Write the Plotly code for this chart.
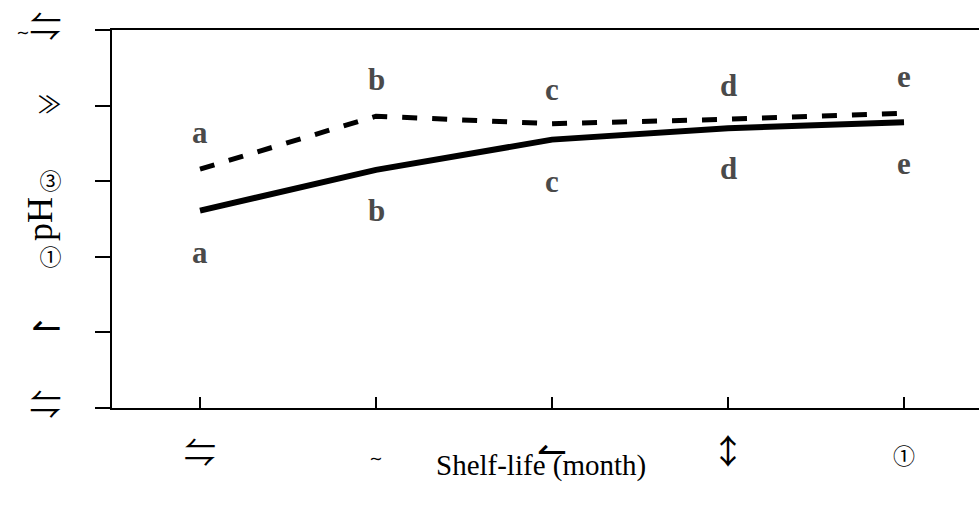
import plotly.graph_objects as go

# Data (y in axis units where ticks are 0..5)
months = [0, 1, 2, 3, 4]
x_tick_labels = ["⇋", "∼", "↼", "↕", "①"]
y_tick_vals = [0, 1, 2, 3, 4, 5]
y_tick_labels = ["⇋", "↼", "①", "③", "≫", "∼⇋"]

solid_vals = [2.61, 3.15, 3.55, 3.70, 3.78]
dashed_vals = [3.16, 3.86, 3.76, 3.82, 3.90]

upper_letters = ["a", "b", "c", "d", "e"]
upper_letter_y = [3.64, 4.35, 4.21, 4.27, 4.38]
lower_letters = ["a", "b", "c", "d", "e"]
lower_letter_y = [2.06, 2.61, 3.00, 3.17, 3.24]

GLYPH_FONT = "'Noto Sans CJK JP','DejaVu Sans'"
SIZES = {"⇋": 32, "↼": 36, "↕": 34, "≫": 24, "∼": 16}


def styled(label):
    out = ""
    for ch in label:
        size = SIZES.get(ch, 22)
        out += f"<span style=\"font-family:{GLYPH_FONT};font-size:{size}px\">{ch}</span>"
    return out


fig = go.Figure()
fig.add_trace(go.Scatter(x=months, y=solid_vals, mode="lines",
                         line=dict(color="black", width=6), showlegend=False))
fig.add_trace(go.Scatter(x=months, y=dashed_vals, mode="lines",
                         line=dict(color="black", width=5, dash="dash"), showlegend=False))

for xv, yv, t in zip(months, upper_letter_y, upper_letters):
    fig.add_annotation(x=xv, y=yv, text=f"<b>{t}</b>", showarrow=False,
                       font=dict(family="Liberation Serif", size=31, color="#4a4a4a"))
for xv, yv, t in zip(months, lower_letter_y, lower_letters):
    fig.add_annotation(x=xv, y=yv, text=f"<b>{t}</b>", showarrow=False,
                       font=dict(family="Liberation Serif", size=31, color="#4a4a4a"))

fig.add_annotation(x=0.495, y=-0.151, xref="paper", yref="paper", text="Shelf-life (month)",
                   showarrow=False, xanchor="center", yanchor="middle",
                   font=dict(family="Liberation Serif", size=29, color="black"))
fig.add_annotation(x=-0.083, y=0.5, xref="paper", yref="paper", text="pH",
                   showarrow=False, textangle=-90, xanchor="center", yanchor="middle",
                   font=dict(family="Liberation Serif", size=36, color="black"))

fig.update_layout(
    width=979, height=507,
    margin=dict(l=112, r=0, t=30, b=99, autoexpand=False),
    plot_bgcolor="white", paper_bgcolor="white",
    xaxis=dict(
        range=[-0.5, 4.426], tickvals=months, ticktext=[styled(s) for s in x_tick_labels],
        showgrid=False, zeroline=False, automargin=False,
        showline=True, linecolor="black", linewidth=2, mirror=True,
        ticks="inside", ticklen=11, tickwidth=2, tickcolor="black",
        tickfont=dict(family="DejaVu Sans", size=22, color="black"),
        ticklabelstandoff=28, ticklabeloverflow="allow",
    ),
    yaxis=dict(
        range=[0, 5], tickvals=y_tick_vals, ticktext=[styled(s) for s in y_tick_labels],
        showgrid=False, zeroline=False, automargin=False,
        showline=True, linecolor="black", linewidth=2,
        ticks="outside", ticklen=15, tickwidth=2, tickcolor="black",
        tickfont=dict(family="DejaVu Sans", size=22, color="black"),
        ticklabelstandoff=29, ticklabeloverflow="allow",
    ),
)

fig.write_html("out.html", config={"displayModeBar": False},
               post_script="document.body.style.margin='0';document.body.style.overflow='hidden';")
